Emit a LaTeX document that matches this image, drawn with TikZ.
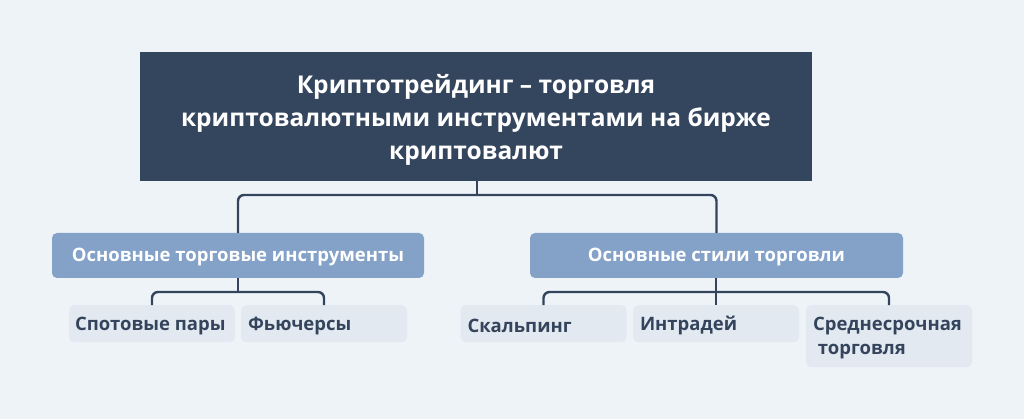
\documentclass[tikz,border=0pt]{standalone}
\usepackage{fontspec}
\setmainfont{Open Sans}[BoldFont={Open Sans Bold}]
\definecolor{bgc}{HTML}{EEF3F8}
\definecolor{rootc}{HTML}{34455E}
\definecolor{midc}{HTML}{84A1C8}
\definecolor{leafc}{HTML}{E3E9F1}
\definecolor{linec}{HTML}{34445C}
\tikzset{
  rootbox/.style={fill=rootc, minimum width=672pt, minimum height=129pt, inner sep=0pt},
  roottext/.style={text=white, inner sep=0pt, align=center, font=\bfseries\fontsize{24.5}{33}\selectfont},
  midbox/.style={fill=midc, rounded corners=5pt, minimum width=372pt, minimum height=45pt, inner sep=0pt},
  midtext/.style={text=white, inner sep=0pt, font=\bfseries\fontsize{18.5}{22}\selectfont},
  leafbox/.style={fill=leafc, rounded corners=5pt, minimum width=166pt, minimum height=37pt, anchor=north, inner sep=0pt},
  leaftext/.style={text=linec, anchor=west, inner sep=0pt, font=\bfseries\fontsize{18.5}{24}\selectfont, align=left},
  conn/.style={draw=linec, line width=2.4pt, rounded corners=6pt}
}
\begin{document}
\begin{tikzpicture}[x=1pt,y=-1pt]
\fill[bgc] (0,0) rectangle (1024,419);
\useasboundingbox (0,0) rectangle (1024,419);
\node[rootbox] (root) at (476,116.5) {};
\node[roottext] (troot) at ([yshift=-3.5pt]root.center) {Криптотрейдинг – торговля\\криптовалютными инструментами на бирже\\криптовалют};
\node[midbox] (ma) at (238,255.5) {};
\node[midbox, minimum width=373pt] (mb) at (716.5,255.5) {};
\node[midtext] (tma) at ([yshift=-1.5pt]ma.center) {Основные торговые инструменты};
\node[midtext] (tmb) at ([yshift=-1.5pt]mb.center) {Основные стили торговли};
\node[leafbox] (spot) at (152,305) {};
\node[leafbox] (fut) at (324,305) {};
\node[leafbox] (scalp) at (543.5,305) {};
\node[leafbox] (intra) at (716,305) {};
\node[leafbox, minimum height=62pt] (midt) at (889,305) {};
\node[leaftext] (tspot) at ([xshift=6pt,yshift=-2pt]spot.west) {Спотовые пары};
\node[leaftext] (tfut) at ([xshift=7pt,yshift=-2pt]fut.west) {Фьючерсы};
\node[leaftext] (tscalp) at ([xshift=7pt,yshift=-2pt]scalp.west) {Скальпинг};
\node[leaftext] (tintra) at ([xshift=7pt,yshift=-2pt]intra.west) {Интрадей};
\node[leaftext, anchor=north west] (tmid) at ([xshift=7pt,yshift=-12pt]midt.north west) {Среднесрочная\\\ торговля};
\coordinate (j1) at (477,195);
\coordinate (j2) at (238,292);
\coordinate (j3) at (716,292);
\draw[conn] (root.south -| j1) -- (j1);
\draw[conn] (ma.north) |- (j1) -| (mb.north);
\draw[conn] (ma.south) -- (j2);
\draw[conn] (spot.north) |- (j2) -| (fut.north);
\draw[conn] (mb.south -| intra.north) -- (intra.north);
\draw[conn] (scalp.north) |- (j3) -| (midt.north);
\end{tikzpicture}
\end{document}
